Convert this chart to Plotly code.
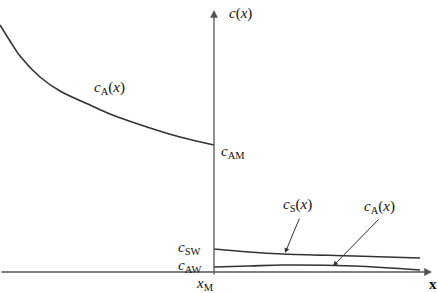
import plotly.graph_objects as go

# Data (x relative to x_M, c above the x-axis), arbitrary units
left_x = [-214, -204, -194, -174, -154, -124, -104, -64, -34, 0]
left_cA = [247, 231, 216, 195, 181, 167, 158, 144, 135, 127]

right_x = [0, 35, 69, 140, 206]
right_cS = [23, 20, 18, 16, 14]
right_cA = [5, 6, 7, 6, 2]

fig = go.Figure()
line_col = "#333333"
for xs, ys in [(left_x, left_cA), (right_x, right_cS), (right_x, right_cA)]:
    fig.add_trace(go.Scatter(x=xs, y=ys, mode="lines",
                             line=dict(color=line_col, width=1.6, shape="spline", smoothing=1.0),
                             showlegend=False, hoverinfo="skip"))

F = "Liberation Serif"
ann = []
# axes with arrows
ann.append(dict(x=0, y=262, ax=0, ay=-4, xref="x", yref="y", axref="x", ayref="y", text="",
                showarrow=True, arrowhead=2, arrowsize=1.2, arrowwidth=1.3, arrowcolor="#555"))
ann.append(dict(x=218, y=0, ax=-214, ay=0, xref="x", yref="y", axref="x", ayref="y", text="",
                showarrow=True, arrowhead=2, arrowsize=1.2, arrowwidth=1.3, arrowcolor="#555"))
# pointer arrows
ann.append(dict(x=71, y=19, ax=86, ay=55, xref="x", yref="y", axref="x", ayref="y", text="",
                showarrow=True, arrowhead=2, arrowsize=1, arrowwidth=1, arrowcolor="#333"))
ann.append(dict(x=119, y=6, ax=166, ay=54, xref="x", yref="y", axref="x", ayref="y", text="",
                showarrow=True, arrowhead=2, arrowsize=1, arrowwidth=1, arrowcolor="#333"))

def lab(x, y, t, size=15, xa="center"):
    ann.append(dict(x=x, y=y, xref="x", yref="y", text=t, showarrow=False, xanchor=xa,
                    font=dict(family=F, size=size, color="#111")))

lab(-105, 184, "<i>c</i><sub>A</sub>(<i>x</i>)")
lab(5, 120, "<i>c</i><sub>AM</sub>", xa="left")
lab(26, 259, "<i>c</i>(<i>x</i>)")
lab(83, 67, "<i>c</i><sub>S</sub>(<i>x</i>)")
lab(165, 65, "<i>c</i><sub>A</sub>(<i>x</i>)")
lab(-25, 24, "<i>c</i><sub>SW</sub>")
lab(-25, 6, "<i>c</i><sub>AW</sub>")
lab(-9, -12, "<i>x</i><sub>M</sub>")
lab(219, -12, "<b>x</b>")

fig.update_layout(
    width=438, height=293, margin=dict(l=0, r=0, t=0, b=0),
    paper_bgcolor="white", plot_bgcolor="white",
    xaxis=dict(range=[-214, 224], visible=False, fixedrange=True),
    yaxis=dict(range=[-21, 272], visible=False, fixedrange=True),
    annotations=ann,
)
fig.write_html("out.html", config={"displayModeBar": False},
               post_script="document.body.style.margin='0';document.body.style.overflow='hidden';")
